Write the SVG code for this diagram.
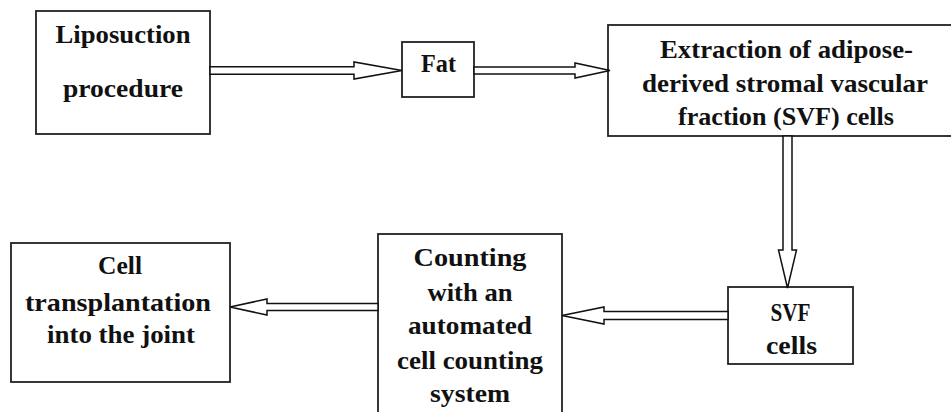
<svg xmlns="http://www.w3.org/2000/svg" width="951" height="412" viewBox="0 0 951 412">
  <style>
    .box { fill: #fff; stroke: #222; stroke-width: 1.8; }
    .arrow { fill: #fff; stroke: #111; stroke-width: 1.5; stroke-linejoin: miter; }
  </style>
  <rect width="951" height="412" fill="#fff"/>

  <g font-family="'Liberation Serif', 'Times New Roman', serif" font-weight="bold" font-size="26" fill="#111" text-anchor="middle">
    <g id="liposuction">
      <rect class="box" x="36" y="11" width="174" height="123"/>
      <text x="123" y="43" textLength="135" lengthAdjust="spacingAndGlyphs">Liposuction</text>
      <text x="123" y="97" textLength="120" lengthAdjust="spacingAndGlyphs">procedure</text>
    </g>

    <g id="fat">
      <rect class="box" x="402" y="42" width="72" height="55"/>
      <text x="438.5" y="72" textLength="35" lengthAdjust="spacingAndGlyphs">Fat</text>
    </g>

    <g id="extraction">
      <rect class="box" x="608" y="25" width="360" height="111"/>
      <text x="786.5" y="58" textLength="253" lengthAdjust="spacingAndGlyphs">Extraction of adipose-</text>
      <text x="785" y="92" textLength="286" lengthAdjust="spacingAndGlyphs">derived stromal vascular</text>
      <text x="786" y="125" textLength="216" lengthAdjust="spacingAndGlyphs">fraction (SVF) cells</text>
    </g>

    <g id="svf-cells">
      <rect class="box" x="728" y="287" width="125" height="77"/>
      <text x="790.5" y="321" textLength="40" lengthAdjust="spacingAndGlyphs">SVF</text>
      <text x="791.5" y="354" textLength="51" lengthAdjust="spacingAndGlyphs">cells</text>
    </g>

    <g id="counting">
      <rect class="box" x="378" y="234" width="184" height="190"/>
      <text x="470" y="266" textLength="113" lengthAdjust="spacingAndGlyphs">Counting</text>
      <text x="470" y="301" textLength="85" lengthAdjust="spacingAndGlyphs">with an</text>
      <text x="470" y="334" textLength="124" lengthAdjust="spacingAndGlyphs">automated</text>
      <text x="470" y="369" textLength="146" lengthAdjust="spacingAndGlyphs">cell counting</text>
      <text x="470" y="402" textLength="80" lengthAdjust="spacingAndGlyphs">system</text>
    </g>

    <g id="transplantation">
      <rect class="box" x="11" y="243" width="219" height="139"/>
      <text x="120" y="274" textLength="44" lengthAdjust="spacingAndGlyphs">Cell</text>
      <text x="118" y="311" textLength="186" lengthAdjust="spacingAndGlyphs">transplantation</text>
      <text x="121" y="343" textLength="148" lengthAdjust="spacingAndGlyphs">into the joint</text>
    </g>
  </g>

  <!-- hollow double-line block arrows -->
  <g id="connectors">
    <polygon class="arrow" points="210,66.7 354,66.7 354,62 402,70.5 354,79 354,74.3 210,74.3"/>
    <polygon class="arrow" points="474,67 575,67 575,63 610,70.5 575,78 575,74 474,74"/>
    <polygon class="arrow" points="783,136 783,250 778.5,250 787.5,288 796.5,250 792,250 792,136"/>
    <polygon class="arrow" points="728,311.5 604,311.5 604,307 562,315.5 604,324 604,319.5 728,319.5"/>
    <polygon class="arrow" points="378,303.5 267,303.5 267,299 230,307 267,315 267,310.5 378,310.5"/>
  </g>
</svg>
